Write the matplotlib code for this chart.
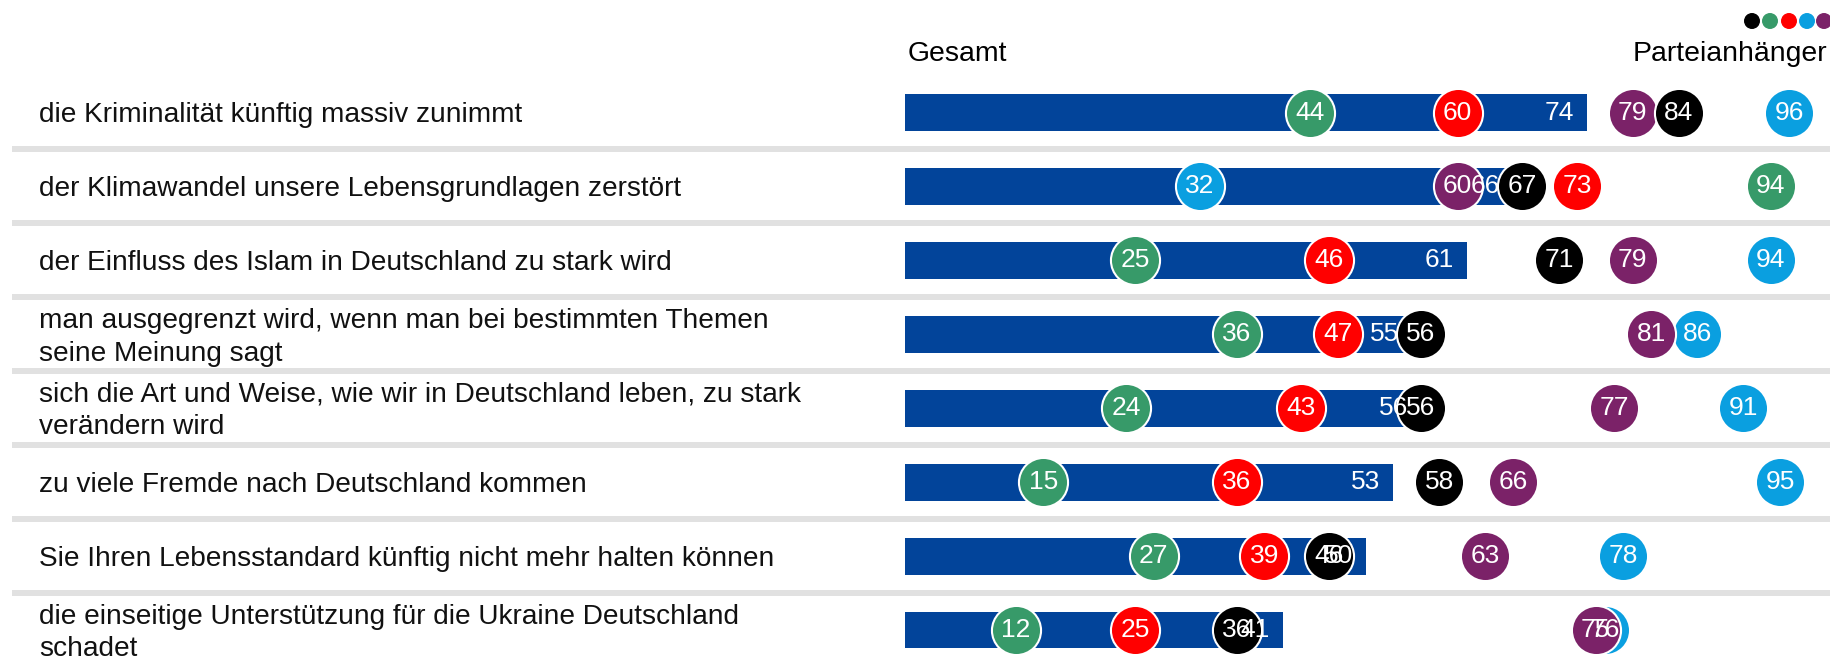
import matplotlib.pyplot as plt
from matplotlib.transforms import blended_transform_factory

plt.rcParams["font.family"] = ["Liberation Sans", "DejaVu Sans"]

statements = [
    "die Kriminalität künftig massiv zunimmt",
    "der Klimawandel unsere Lebensgrundlagen zerstört",
    "der Einfluss des Islam in Deutschland zu stark wird",
    "man ausgegrenzt wird, wenn man bei bestimmten Themen\nseine Meinung sagt",
    "sich die Art und Weise, wie wir in Deutschland leben, zu stark\nverändern wird",
    "zu viele Fremde nach Deutschland kommen",
    "Sie Ihren Lebensstandard künftig nicht mehr halten können",
    "die einseitige Unterstützung für die Ukraine Deutschland\nschadet",
]
gesamt = [74, 66, 61, 55, 56, 53, 50, 41]

# party supporters, in stacking order (last one drawn on top)
afd    = [96, 32, 94, 86, 91, 95, 78, 76]
linke  = [79, 60, 79, 81, 77, 66, 63, 75]
gruene = [44, 94, 25, 36, 24, 15, 27, 12]
spd    = [60, 73, 46, 47, 43, 36, 39, 25]
union  = [84, 67, 71, 56, 56, 58, 46, 36]

party_series = [
    (afd, "#0a9fe0"),
    (linke, "#7b2268"),
    (gruene, "#379a69"),
    (spd, "#ff0000"),
    (union, "#000000"),
]
legend_colors = ["#000000", "#379a69", "#ff0000", "#0a9fe0", "#7b2268"]

BAR = "#02449a"
LABEL_FS = 20.2
HEAD_FS = 20.4
NUM_FS = 19
W, H = 1830, 658
fig = plt.figure(figsize=(W / 100, H / 100), dpi=100)

x0, x1 = 905, 1826
ax = fig.add_axes([x0 / W, 0, (x1 - x0) / W, 1])
row0, step = 112.5, 73.93
ax.set_xlim(0, 100)
ax.set_ylim((H - row0) / step, -row0 / step)
ax.axis("off")

rows = list(range(len(statements)))
ax.barh(rows, gesamt, height=0.5, color=BAR, zorder=2)

for vals, col in party_series:
    ax.scatter(vals, rows, s=1250, color=col, edgecolor="white",
               linewidth=1.5, zorder=3, clip_on=False)

for vals, _ in party_series:
    for y, v in zip(rows, vals):
        ax.text(v, y, str(v), color="white", fontsize=NUM_FS,
                ha="center", va="center", zorder=5)

for y, v in zip(rows, gesamt):
    ax.annotate(str(v), (v, y), xytext=(-9, 0), textcoords="offset points",
                color="white", fontsize=NUM_FS, ha="right", va="center", zorder=5)

# statement labels and row separators, x in figure coordinates
tr = blended_transform_factory(fig.transFigure, ax.transData)
for y, s in zip(rows, statements):
    ax.text(39 / W, y + 0.04, s, transform=tr, fontsize=LABEL_FS, ha="left",
            va="center", linespacing=1.33, color="#111111")
for y in rows[:-1]:
    ax.plot([12 / W, 1], [y + 0.5, y + 0.5], transform=tr, color="#e1e1e1",
            lw=4.3, solid_capstyle="butt", clip_on=False, zorder=1)

# headers
hy = (54 - row0) / step
ax.text(908 / W, hy, "Gesamt", transform=tr, fontsize=HEAD_FS, ha="left", va="center")
ax.text(1827 / W, hy, "Parteianhänger", transform=tr, fontsize=HEAD_FS,
        ha="right", va="center")

# party colour key
dot_x = [1752, 1770, 1789, 1807, 1824]
dy = (21 - row0) / step
ax.scatter([x / W for x in dot_x], [dy] * len(dot_x), s=110, c=legend_colors,
           transform=tr, clip_on=False, zorder=3)

fig.savefig("out.png", dpi=100, facecolor="white")
